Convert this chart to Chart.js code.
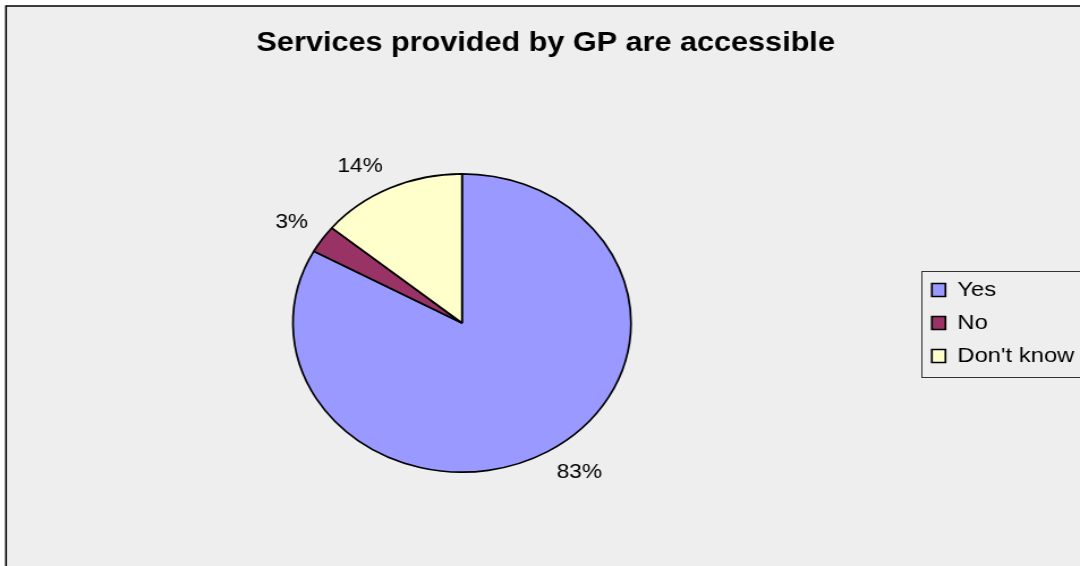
<!DOCTYPE html>
<html>
<head>
<meta charset="utf-8">
<title>Services provided by GP are accessible</title>
<script src="https://cdn.jsdelivr.net/npm/chart.js@4.4.1/dist/chart.umd.min.js"></script>
<style>
  html, body { margin: 0; padding: 0; background: #fff; overflow: hidden; }
  #chart { display: block; width: 1080px; height: 566px; }
</style>
</head>
<body>
<!-- drawn on a narrower bitmap and widened by CSS, giving the oval pie and wide lettering -->
<canvas id="chart" width="953" height="566" style="width:1080px;height:566px"></canvas>
<script>
const chartTitle = 'Services provided by GP are accessible';
const categories = ['Yes', 'No', "Don't know"];
const responses = [83, 3, 14];
const sliceColors = ['#9999FF', '#993366', '#FFFFCC'];

const FONT = "'Liberation Sans', Arial, Helvetica, sans-serif";
const PANEL = '#EEEEEE';

// grey panel with a dark frame on its left and top edges
const backdrop = {
  id: 'backdrop',
  beforeDraw(chart) {
    const { ctx, width, height } = chart;
    ctx.save();
    ctx.fillStyle = '#fff';
    ctx.fillRect(0, 0, width, height);
    ctx.fillStyle = PANEL;
    ctx.fillRect(5.3, 6, width, height);
    ctx.strokeStyle = '#000';
    ctx.lineWidth = 1.6;
    ctx.beginPath();
    ctx.moveTo(5.3, height + 2);
    ctx.lineTo(5.3, 6);
    ctx.lineTo(width + 2, 6);
    ctx.stroke();
    ctx.restore();
  }
};

// outline round the legend entries
const legendFrame = {
  id: 'legendFrame',
  afterDraw(chart) {
    const boxes = chart.legend && chart.legend.legendHitBoxes;
    if (!boxes || !boxes.length) return;
    const first = boxes[0];
    const last = boxes[boxes.length - 1];
    const x = first.left - 9;
    const y = first.top - 9;
    const bottom = last.top + last.height + 10;
    const { ctx, width } = chart;
    ctx.save();
    ctx.strokeStyle = '#333';
    ctx.lineWidth = 1;
    ctx.strokeRect(Math.round(x) + 0.5, Math.round(y) + 0.5, width + 10 - x, Math.round(bottom - y));
    ctx.restore();
  }
};

// percentage labels just outside each slice
const percentLabels = {
  id: 'percentLabels',
  afterDatasetsDraw(chart) {
    const { ctx } = chart;
    const meta = chart.getDatasetMeta(0);
    const values = chart.data.datasets[0].data;
    const total = values.reduce((a, b) => a + b, 0);
    ctx.save();
    ctx.font = '20px ' + FONT;
    ctx.fillStyle = '#000';
    ctx.textAlign = 'center';
    ctx.textBaseline = 'middle';
    meta.data.forEach((arc, i) => {
      const { x, y, startAngle, endAngle, outerRadius } =
        arc.getProps(['x', 'y', 'startAngle', 'endAngle', 'outerRadius'], true);
      const mid = (startAngle + endAngle) / 2;
      const dx = Math.cos(mid), dy = Math.sin(mid);
      const text = Math.round(values[i] / total * 100) + '%';
      const w = ctx.measureText(text).width;
      const h = 16;
      const reach = outerRadius + 15;
      const cx = x + dx * reach + Math.sign(dx) * w / 2;
      const cy = y + dy * reach + Math.sign(dy) * h / 2;
      ctx.fillText(text, cx, cy);
    });
    ctx.restore();
  }
};

Chart.defaults.color = '#000';
Chart.defaults.font.family = FONT;

new Chart(document.getElementById('chart'), {
  type: 'pie',
  data: {
    labels: categories,
    datasets: [{
      data: responses,
      backgroundColor: sliceColors,
      borderColor: '#000',
      borderWidth: 1.7
    }]
  },
  options: {
    responsive: false,
    devicePixelRatio: 1,
    animation: false,
    events: [],
    layout: { padding: { left: 5, right: -5, top: 0, bottom: 93 } },
    plugins: {
      title: {
        display: true,
        text: chartTitle,
        color: '#000',
        font: { family: FONT, size: 27, weight: 'bold' },
        padding: { top: 27, bottom: 113.6 }
      },
      legend: {
        position: 'right',
        align: 'center',
        fullSize: false,
        labels: {
          color: '#000',
          font: { family: FONT, size: 21 },
          boxWidth: 12,
          boxHeight: 13,
          padding: 12
        }
      },
      tooltip: { enabled: false }
    }
  },
  plugins: [backdrop, legendFrame, percentLabels]
});
</script>
</body>
</html>
